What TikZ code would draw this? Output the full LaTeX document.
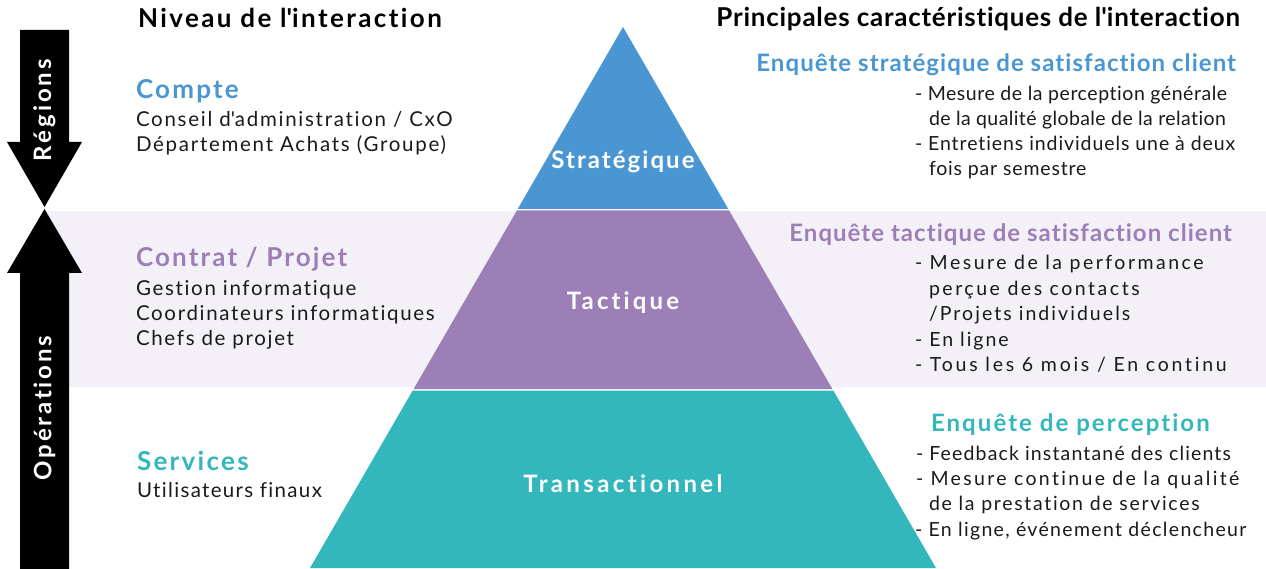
\documentclass[tikz,border=0pt]{standalone}
\usepackage{fontspec}
\setmainfont{Lato}[Ligatures={NoCommon}]
\definecolor{cblue}{HTML}{4A96D2}
\definecolor{cpurple}{HTML}{9D7FB8}
\definecolor{cteal}{HTML}{33B7BC}
\definecolor{cband}{HTML}{F3F1F7}
\definecolor{ctext}{HTML}{1A1A1A}
\newcommand{\apos}{\textquotesingle}
\begin{document}
\begin{tikzpicture}[x=1pt,y=-1pt,
  every node/.style={inner sep=0pt,outer sep=0pt},
  hdr/.style={font=\fontsize{26}{30}\selectfont\bfseries\addfontfeatures{LetterSpace=#1},text=black},
  lvl/.style={font=\fontsize{26}{30}\selectfont\bfseries\addfontfeatures{LetterSpace=#1},anchor=base west},
  body/.style={font=\fontsize{20.5}{24}\selectfont\addfontfeatures{LetterSpace=#1},text=ctext,anchor=base west},
  rhead/.style={font=\fontsize{24}{28}\selectfont\bfseries\addfontfeatures{LetterSpace=#1},anchor=base east},
  rbody/.style={font=\fontsize{19.5}{24}\selectfont\addfontfeatures{LetterSpace=#1},text=ctext,anchor=base west},
  pyr/.style={font=\fontsize{24}{28}\selectfont\bfseries\addfontfeatures{LetterSpace=#1},text=white},
  arr/.style={font=\fontsize{24}{28}\selectfont\bfseries\addfontfeatures{LetterSpace=#1},text=white,rotate=90}]
\useasboundingbox (0,0) rectangle (1266,569);
% band
\fill[cband] (45,211) rectangle (1266,387);
% arrows
\fill[black] (20,30) -- (69,30) -- (69,142) -- (82,142) -- (44.5,207) -- (7,142) -- (20,142) -- cycle;
\fill[black] (44.5,209) -- (82,273) -- (69,273) -- (69,569) -- (20,569) -- (20,273) -- (7,273) -- cycle;
\node[arr=12.5] (reg) at (44.5,110) {Régions};
\node[arr=11.5] (ope) at (44.5,408) {Opérations};
% pyramid
\fill[cblue] (623,27) -- (728.3,209) -- (517.7,209) -- cycle;
\fill[cpurple] (516.9,210.5) -- (729.1,210.5) -- (832.4,389) -- (413.6,389) -- cycle;
\fill[cteal] (412.7,390.5) -- (833.3,390.5) -- (936,568) -- (310,568) -- cycle;
\node[pyr=8.5] (strat) at (623,162) {Stratégique};
\node[pyr=13] (tact) at (623,303) {Tactique};
\node[pyr=14] (trans) at (623,484) {Transactionnel};
% headers
\node[hdr=9.3,anchor=base west] (h1) at (138,28) {Niveau de l\apos interaction};
\node[hdr=2.9,anchor=base east] (h2) at (1240,27) {Principales caractéristiques de l\apos interaction};
% left
\node[lvl=8.5,text=cblue] (compte) at (136,99) {Compte};
\node[body=8.4] (c1) at (136,127) {Conseil d\apos administration / CxO};
\node[body=8.4] (c2) at (136,152) {Département Achats (Groupe)};
\node[lvl=8.3,text=cpurple] (contrat) at (136,267) {Contrat / Projet};
\node[body=8.2] (p1) at (136,295) {Gestion informatique};
\node[body=8.2] (p2) at (136,320) {Coordinateurs informatiques};
\node[body=8.2] (p3) at (136,345) {Chefs de projet};
\node[lvl=8.8,text=cteal] (serv) at (137,470) {Services};
\node[body=6.5] (s1) at (137,497) {Utilisateurs finaux};
% right strategic
\node[rhead=4.4,text=cblue] (e1) at (1236,72) {Enquête stratégique de satisfaction client};
\node[rbody=2.8] (e1a) at (915,101) {- Mesure de la perception générale};
\node[rbody=2.1] (e1b) at (929,126) {de la qualité globale de la relation};
\node[rbody=4.7] (e1c) at (915,151) {- Entretiens individuels une à deux};
\node[rbody=4.2] (e1d) at (929,176) {fois par semestre};
% right tactical
\node[rhead=4.3,text=cpurple] (e2) at (1232,242) {Enquête tactique de satisfaction client};
\node[rbody=12.8] (e2a) at (915,270) {- Mesure de la performance};
\node[rbody=12.9] (e2b) at (929,295) {perçue des contacts};
\node[rbody=10.5] (e2c) at (929,320) {/Projets individuels};
\node[rbody=10.3] (e2d) at (915,346) {- En ligne};
\node[rbody=14] (e2e) at (915,371) {- Tous les 6 mois / En continu};
% right transactional
\node[rhead=8.6,text=cteal,anchor=base west] (e3) at (931,431) {Enquête de perception};
\node[rbody=5.9] (e3a) at (916,460) {- Feedback instantané des clients};
\node[rbody=12] (e3b) at (916,485) {- Mesure continue de la qualité};
\node[rbody=8.7] (e3c) at (929,510) {de la prestation de services};
\node[rbody=6.8] (e3d) at (915,536) {- En ligne, événement déclencheur};
\end{tikzpicture}
\end{document}
